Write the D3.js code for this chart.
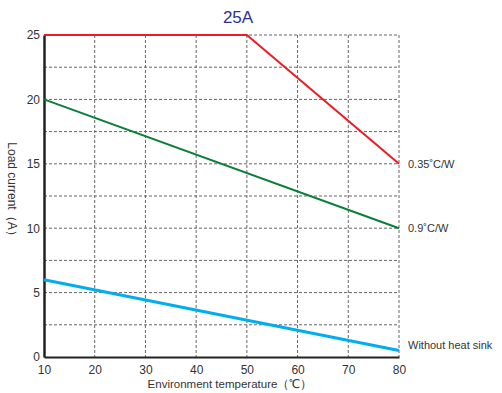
<!DOCTYPE html>
<html>
  <head>
    <meta charset="utf-8">
    <script src="https://d3js.org/d3.v7.min.js"></script>
    <style>
      body { margin: 0; background: #fff; font-family: Arial, "Liberation Sans", sans-serif; }
      .tick text { fill: #333; font-size: 12px; }
      .grid line { stroke: #666; stroke-dasharray: 3,2; stroke-width: 1; }
      .line { fill: none; stroke-width: 2px; }
      .lbl { font-size: 11px; fill: #333; }
    </style>
  </head>
  <body>
    <svg width="502" height="393"></svg>
    <script>
    // data
    var temps = [10, 20, 30, 40, 50, 60, 70, 80];
    var yTicks = [0, 5, 10, 15, 20, 25];
    var seriesNames = ["0.35˚C/W", "0.9˚C/W", "Without heat sink"];
    var s035 = [[10, 25], [50, 25], [80, 15]];
    var s09 = [[10, 20], [80, 10]];
    var sNone = [[10, 6], [80, 0.5]];
    var colors = ["#ed1c24", "#0a7f3a", "#00aeef"];

    var svg = d3.select("svg"),
        margin = {top: 35, right: 103, bottom: 36, left: 44},
        width = 502 - margin.left - margin.right,
        height = 393 - margin.top - margin.bottom,
        g = svg.append("g").attr("transform", "translate(" + margin.left + "," + margin.top + ")");

    var x = d3.scaleLinear().domain([10, 80]).range([0, width]),
        y = d3.scaleLinear().domain([0, 25]).range([height, 0]);

    // dashed grid
    var grid = g.append("g").attr("class", "grid");
    grid.selectAll(".gx").data(temps.slice(1))
      .enter().append("line")
      .attr("x1", function(d) { return x(d); }).attr("x2", function(d) { return x(d); })
      .attr("y1", 0).attr("y2", height);
    grid.selectAll(".gy").data(d3.range(2.5, 25.1, 2.5))
      .enter().append("line")
      .attr("x1", 0).attr("x2", width)
      .attr("y1", function(d) { return y(d); }).attr("y2", function(d) { return y(d); });

    // axes
    var xAxis = g.append("g")
        .attr("transform", "translate(0," + height + ")")
        .call(d3.axisBottom(x).tickValues(temps).tickSize(0).tickPadding(8));
    var yAxis = g.append("g")
        .call(d3.axisLeft(y).tickValues(yTicks).tickSize(0).tickPadding(4));
    xAxis.select(".domain").attr("stroke", "#222").attr("stroke-width", 2);
    yAxis.select(".domain").attr("stroke", "#222").attr("stroke-width", 2.5);
    xAxis.selectAll(".tick text").style("font-family", "Arial, Liberation Sans, sans-serif").attr("dy", "0.71em");
    yAxis.selectAll(".tick text").style("font-family", "Arial, Liberation Sans, sans-serif");

    var line = d3.line()
        .x(function(d) { return x(d[0]); })
        .y(function(d) { return y(d[1]); });

    var all = [s035, s09, sNone];
    g.selectAll(".line").data(all)
      .enter().append("path")
      .attr("class", "line")
      .attr("d", line)
      .style("stroke", function(d, i) { return colors[i]; })
      .style("stroke-width", function(d, i) { return i == 2 ? 3 : 2; });

    g.selectAll(".lbl").data(all)
      .enter().append("text")
      .attr("class", "lbl")
      .attr("x", width + 9)
      .attr("y", function(d, i) { return y(d[d.length - 1][1]) + (i == 2 ? -5 : 0); })
      .attr("dy", "0.35em")
      .text(function(d, i) { return seriesNames[i]; });

    // titles
    svg.append("text")
      .attr("x", 238).attr("y", 23)
      .attr("text-anchor", "middle")
      .style("font-size", "17px")
      .style("fill", "#2e3192")
      .text("25A");

    svg.append("text")
      .attr("x", 230).attr("y", 388)
      .attr("text-anchor", "middle")
      .style("font-size", "11.5px")
      .style("fill", "#333")
      .text("Environment temperature（℃）");

    svg.append("text")
      .attr("transform", "translate(8,192) rotate(90)")
      .attr("text-anchor", "middle")
      .style("font-size", "12px")
      .style("fill", "#333")
      .text("Load current（A）");
    </script>
  </body>
</html>
